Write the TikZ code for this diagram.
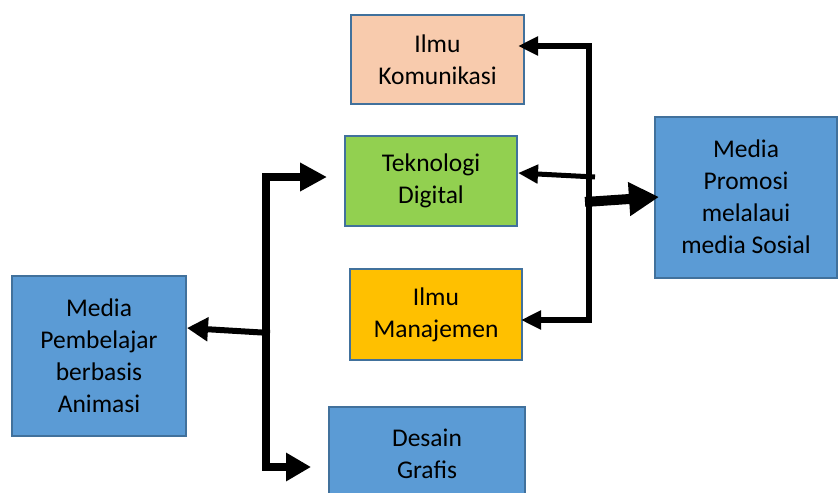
\documentclass[tikz,border=0pt]{standalone}
\usepackage{fontspec}
\setmainfont{Carlito}
\usetikzlibrary{arrows.meta}
\definecolor{boxline}{HTML}{41719C}
\definecolor{boxblue}{HTML}{5B9BD5}
\definecolor{boxpeach}{HTML}{F8CBAD}
\definecolor{boxgreen}{HTML}{92D050}
\definecolor{boxorange}{HTML}{FFC000}
\begin{document}
\begin{tikzpicture}[x=1pt,y=-1pt,
  box/.style={draw=boxline, line width=2pt, align=center, inner sep=0pt,
    font=\fontsize{25.5}{32}\selectfont},
  link/.style={line width=6pt, line join=miter}]
\useasboundingbox (0,0) rectangle (839,493);
\clip (0,0) rectangle (839,493);
\node[box, fill=boxpeach, minimum width=173pt, minimum height=89pt] (komunikasi) at (437.5,59.5){Ilmu\\Komunikasi};
\node[box, fill=boxgreen, minimum width=172pt, minimum height=90pt] (teknologi) at (431,181){Teknologi\\Digital};
\node[box, fill=boxorange, minimum width=172pt, minimum height=91pt] (manajemen) at (436,314.5){Ilmu\\Manajemen};
\node[box, fill=boxblue, minimum width=196pt, minimum height=94pt] (desain) at (427,454){Desain\\Grafis};
\node[box, fill=boxblue, minimum width=182pt, minimum height=161pt] (promosi) at (746,197){Media\\Promosi\\melalaui\\media Sosial};
\node[box, fill=boxblue, minimum width=174pt, minimum height=160pt] (pembelajar) at (99,356){Media\\Pembelajar\\berbasis\\Animasi};
% left bracket
\coordinate (ltop) at (266,177);
\coordinate (lmid) at (270,333);
\coordinate (lbot) at (266,467);
\draw[link, line width=8pt, {Triangle[length=27pt,width=27pt]}-{Triangle[length=25pt,width=27pt]}]
  ([xshift=-17pt]teknologi.west |- ltop) -- (ltop) -- (lbot) -- ([xshift=-17pt]desain.west |- lbot);
\draw[link, -{Triangle[length=21pt,width=23pt]}] (lmid) -- ([yshift=28pt]pembelajar.east);
% right bracket
\coordinate (rtop) at (589,46);
\coordinate (rmid) at (595,177);
\coordinate (rbot) at (589,320);
\coordinate (rout) at (585,202);
\draw[link, {Triangle[length=20pt,width=18pt]}-{Triangle[length=20pt,width=18pt]}]
  ([xshift=-7pt]komunikasi.east |- rtop) -- (rtop) -- (rbot) -- ([xshift=-2pt]manajemen.east |- rbot);
\draw[link, line width=5pt, -{Triangle[length=20pt,width=18pt]}] (rmid) -- ([yshift=8pt]teknologi.east);
\draw[link, line width=10pt, -{Triangle[length=30pt,width=32pt]}] (rout) -- ([xshift=5pt]promosi.west);
\end{tikzpicture}
\end{document}
